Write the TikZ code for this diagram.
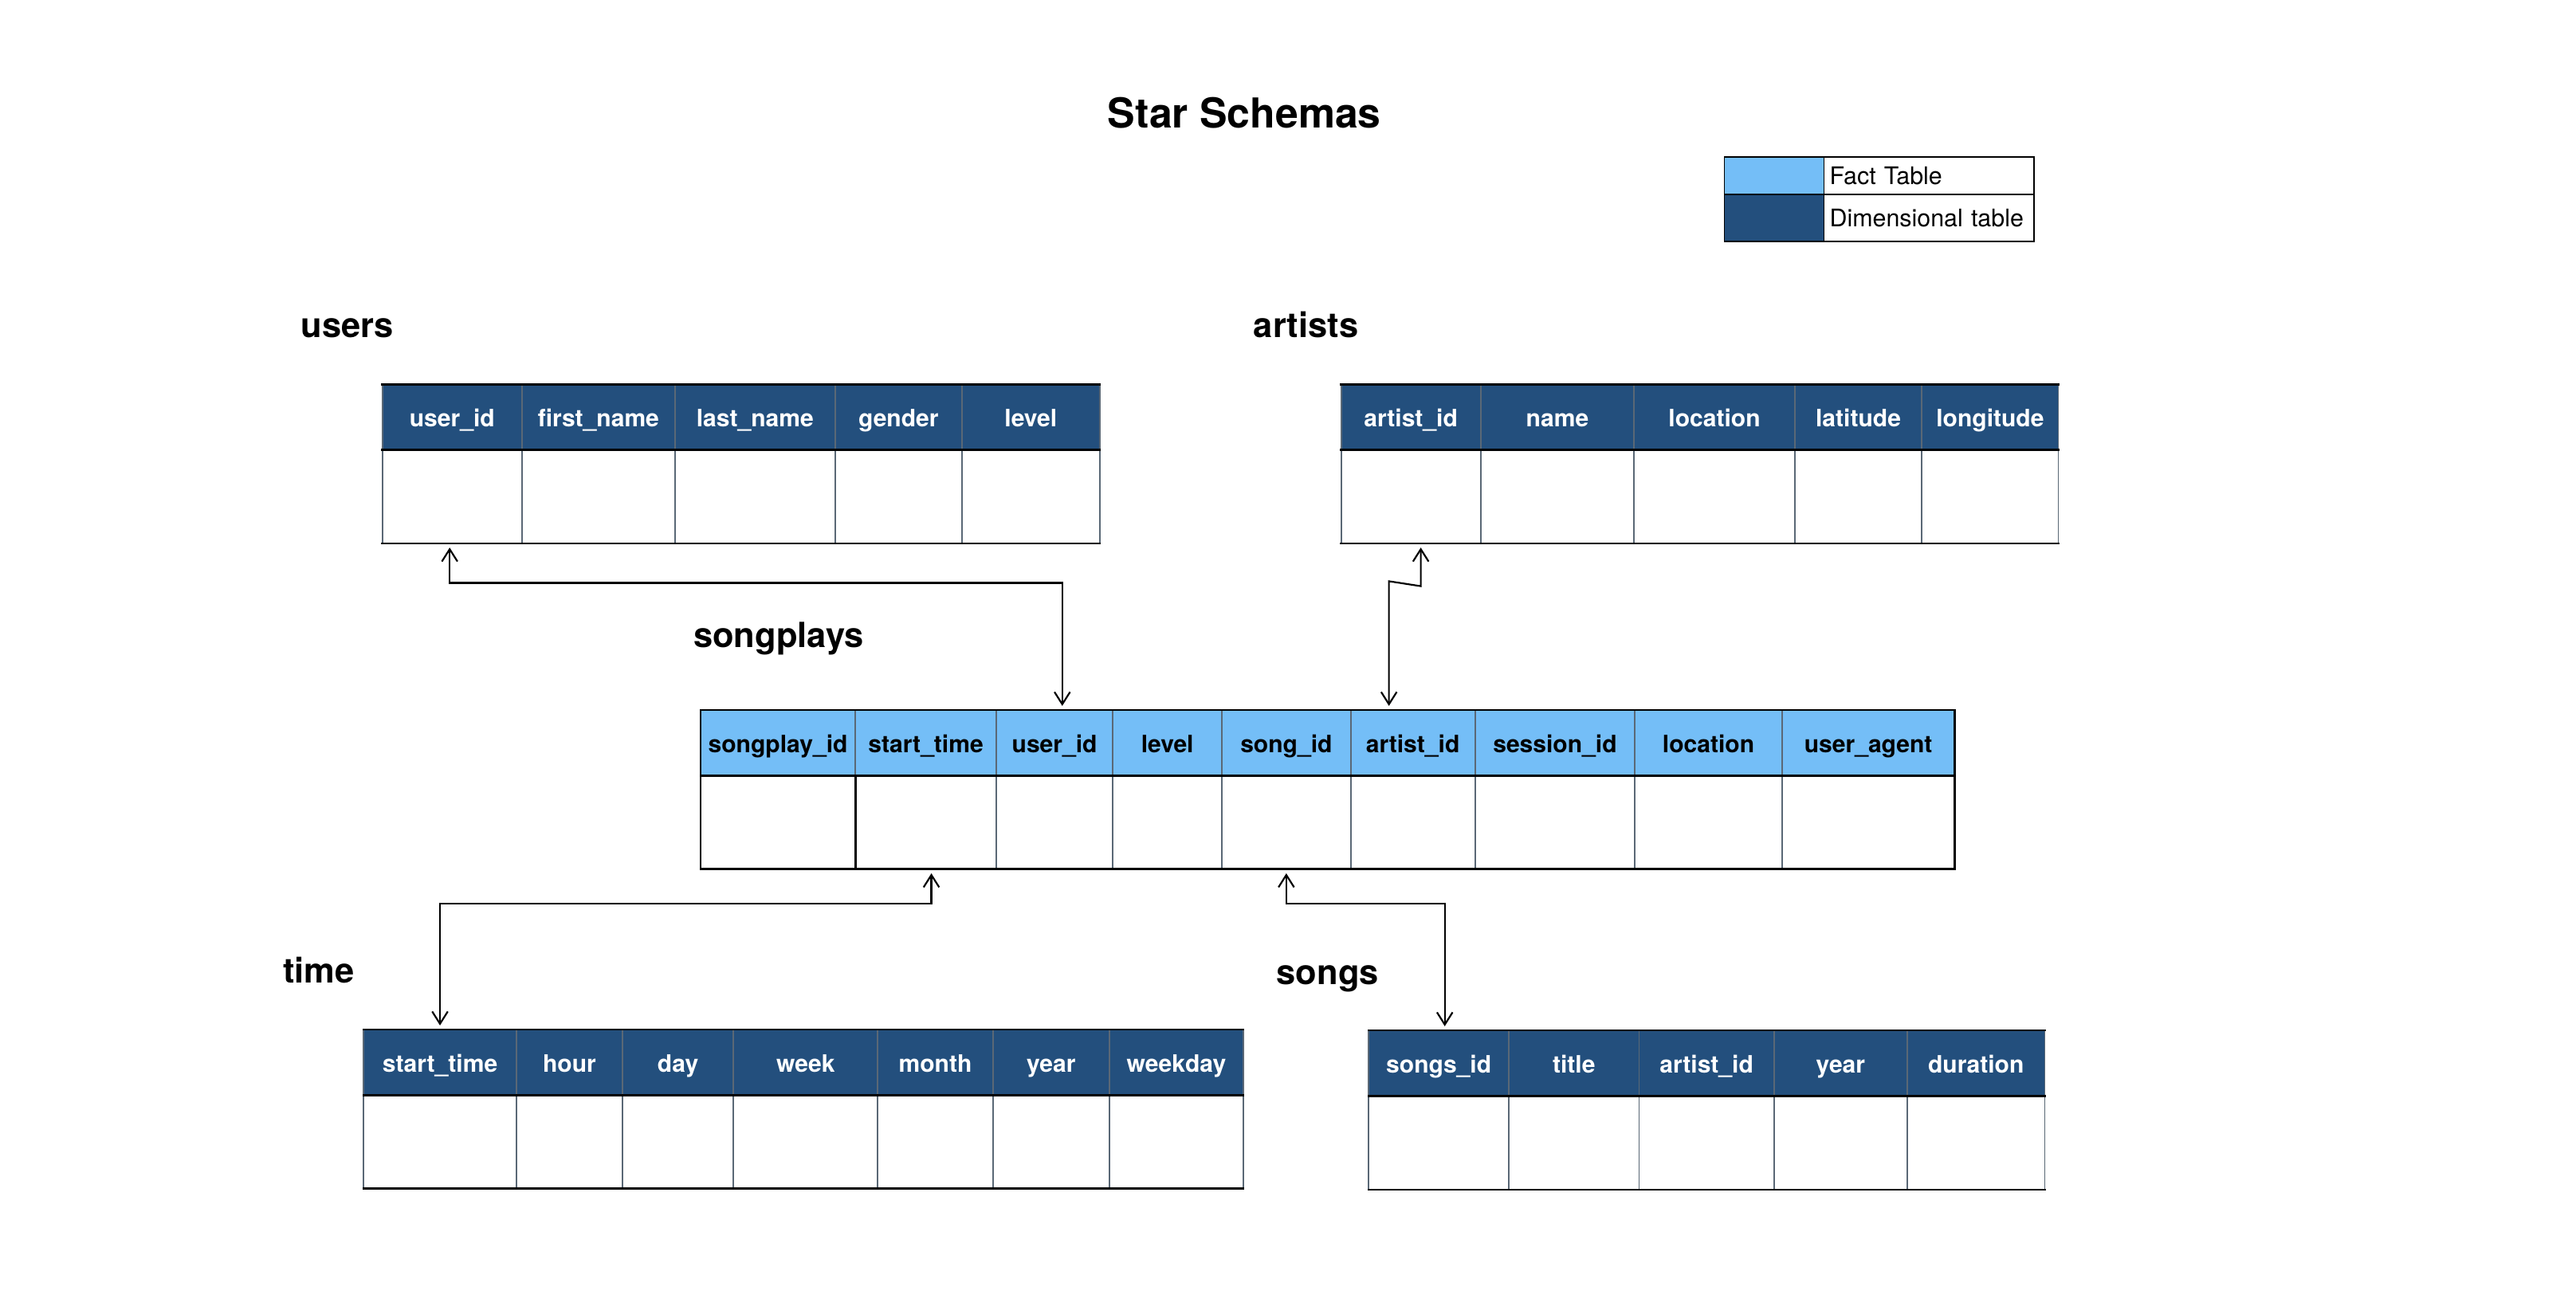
\documentclass[tikz,border=0pt]{standalone}
\usepackage{fontspec}
\setmainfont{TeX Gyre Heros}
\usetikzlibrary{positioning, arrows.meta}
\definecolor{factblue}{RGB}{116,190,247}
\definecolor{dimblue}{RGB}{35,79,125}
\definecolor{gridgray}{RGB}{90,104,118}

\begin{document}
\begin{tikzpicture}[x=0.02cm, y=-0.02cm,
    headcell/.style = {draw=gridgray, line width=0.5pt, inner sep=0pt, outer sep=0pt, minimum height=0.8cm, text height=7.5pt, text depth=0.7pt, font=\fontsize{8.3}{10}\selectfont\bfseries},
    dimhead/.style = {headcell, fill=dimblue, text=white},
    facthead/.style = {headcell, fill=factblue, text=black},
    bodycell/.style = {draw=gridgray, line width=0.5pt, inner sep=0pt, outer sep=0pt, minimum height=1.14cm},
    hrule/.style = {line width=0.75pt, line cap=rect},
    fk/.style = {line width=0.6pt, {Straight Barb[length=1.5mm, width=1.9mm]}-{Straight Barb[length=1.5mm, width=1.9mm]}, shorten <=0.05cm, shorten >=0.05cm},
    tabname/.style = {anchor=base west, inner sep=0pt, font=\fontsize{12}{14}\selectfont\bfseries},
    legbox/.style = {draw=black, line width=0.4pt, inner sep=0pt, outer sep=0pt, font=\fontsize{8.4}{10}\selectfont}]
    \useasboundingbox (0,0) rectangle (1568.5,800);

    \node[anchor=base, inner sep=0pt, font=\fontsize{14.3}{17}\selectfont\bfseries] (title) at (757.7,78.1) {Star Schemas};

    % legend
    \node[legbox, fill=factblue, minimum width=1.21cm, minimum height=0.456cm] (lf) at (1080.3,107) {};
    \node[legbox, right=0pt of lf, minimum height=0.456cm, text width=2.42cm, align=left, inner xsep=0.07cm] (lft) {Fact Table};
    \node[legbox, fill=dimblue, below=0pt of lf, minimum width=1.21cm, minimum height=0.572cm] (ld) {};
    \node[legbox, right=0pt of ld, minimum height=0.572cm, text width=2.42cm, align=left, inner xsep=0.07cm] (ldt) {Dimensional table};

    % table names
    \node[tabname] (users) at (183,205.5) {users};
    \node[tabname] (artists) at (763,205.5) {artists};
    \node[tabname] (songplays) at (422,394.5) {songplays};
    \node[tabname] (time) at (172,598.4) {time};
    \node[tabname] (songs) at (777,599.5) {songs};

    % users
    \foreach \l/\r/\txt [count=\i] in {232.8/317.8/user\_id, 317.8/411/first\_name, 411/508.5/last\_name, 508.5/585.7/gender, 585.7/669.6/level} {
        \node[dimhead, minimum width={(\r-\l)*0.02cm}] (u\i) at ({(\l+\r)/2},254) {\txt};
        \node[bodycell, minimum width={(\r-\l)*0.02cm}, below=0pt of u\i] (ub\i) {};
    }
    \draw[hrule] (u1.north west) -- (u5.north east) (u1.south west) -- (u5.south east) (ub1.south west) -- (ub5.south east);

    % artists
    \foreach \l/\r/\txt [count=\i] in {816.6/901.5/artist\_id, 901.5/995/name, 995/1092.8/location, 1092.8/1170.2/latitude, 1170.2/1253.3/longitude} {
        \node[dimhead, minimum width={(\r-\l)*0.02cm}] (a\i) at ({(\l+\r)/2},254) {\txt};
        \node[bodycell, minimum width={(\r-\l)*0.02cm}, below=0pt of a\i] (ab\i) {};
    }
    \draw[hrule] (a1.north west) -- (a5.north east) (a1.south west) -- (a5.south east) (ab1.south west) -- (ab5.south east);

    % songplays
    \foreach \l/\r/\txt [count=\i] in {426.6/520.8/songplay\_id, 520.8/606.6/start\_time, 606.6/677.6/user\_id, 677.6/744/level, 744/822.4/song\_id, 822.4/898.1/artist\_id, 898.1/995.5/session\_id, 995.5/1085/location, 1085/1190.2/user\_agent} {
        \node[facthead, minimum width={(\r-\l)*0.02cm}] (s\i) at ({(\l+\r)/2},452.4) {\txt};
        \node[bodycell, minimum width={(\r-\l)*0.02cm}, below=0pt of s\i] (sb\i) {};
    }
    \draw[hrule] (s1.north west) -- (s9.north east) (s1.south west) -- (s9.south east) (sb1.south west) -- (sb9.south east);
    \draw[hrule] (s1.north west) -- (sb1.south west) (sb1.north east) -- (sb1.south east) (s9.north east) -- (sb9.south east);

    % time
    \foreach \l/\r/\txt [count=\i] in {221.3/314.5/start\_time, 314.5/379/hour, 379/446.6/day, 446.6/534.5/week, 534.5/604.5/month, 604.5/675.5/year, 675.5/757.1/weekday} {
        \node[dimhead, minimum width={(\r-\l)*0.02cm}] (t\i) at ({(\l+\r)/2},647) {\txt};
        \node[bodycell, minimum width={(\r-\l)*0.02cm}, below=0pt of t\i] (tb\i) {};
    }
    \draw[hrule] (t1.north west) -- (t7.north east) (t1.south west) -- (t7.south east) (tb1.south west) -- (tb7.south east);

    % songs
    \foreach \l/\r/\txt [count=\i] in {833.4/918.7/songs\_id, 918.7/998/title, 998/1080.2/artist\_id, 1080.2/1161.3/year, 1161.3/1245/duration} {
        \node[dimhead, minimum width={(\r-\l)*0.02cm}] (g\i) at ({(\l+\r)/2},647.5) {\txt};
        \node[bodycell, minimum width={(\r-\l)*0.02cm}, below=0pt of g\i] (gb\i) {};
    }
    \draw[hrule] (g1.north west) -- (g5.north east) (g1.south west) -- (g5.south east) (gb1.south west) -- (gb5.south east);

    % keys
    \draw[fk] ([xshift=-0.03cm]ub1.south) -- ++(0,24) -| ([xshift=0.094cm]s3.north);
    \draw[fk] ([xshift=0.121cm]ab1.south) -- ++(0,26) -- ++(-19.4,-3) -- ([xshift=-0.291cm]s6.north);
    \draw[fk] ([xshift=0.068cm]sb2.south) -- ++(0,21) -| (t1.north);
    \draw[fk] (sb5.south) -- ++(0,21) -| ([xshift=0.073cm]g1.north);
\end{tikzpicture}
\end{document}
